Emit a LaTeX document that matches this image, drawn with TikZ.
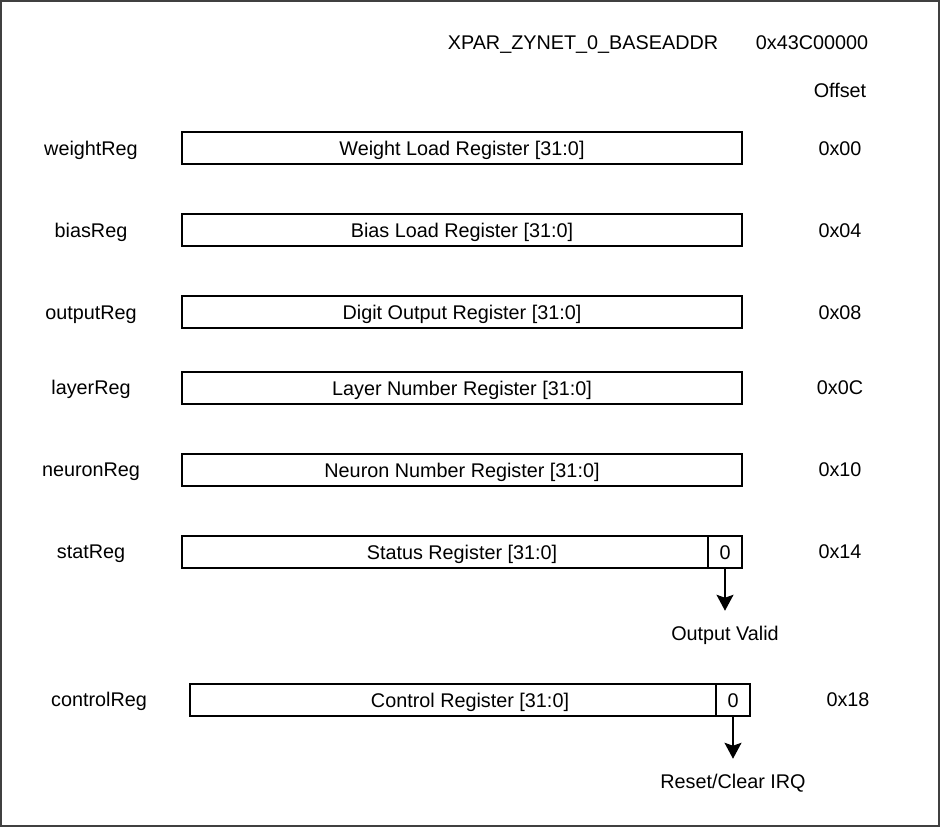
\documentclass[tikz,border=0pt]{standalone}
\usepackage{fontspec}
\setmainfont{Liberation Sans}
\usetikzlibrary{arrows.meta,positioning}

\begin{document}
\begin{tikzpicture}[
  x=1pt, y=-1pt,
  txt/.style={font=\fontsize{19.8}{23}\selectfont, inner sep=0pt, text height=18pt, text depth=4pt},
  regbox/.style={draw, line width=1.5pt, minimum width=560pt, minimum height=32pt, inner sep=0pt, text height=18pt, text depth=4pt, font=\fontsize{19.8}{23}\selectfont},
  bitbox/.style={draw, line width=1.5pt, minimum width=34pt, minimum height=32pt, inner sep=0pt, text height=18pt, text depth=4pt, font=\fontsize{19.8}{23}\selectfont},
  sig/.style={-{Stealth[length=16pt, width=17pt, inset=3pt]}, line width=1.5pt}
]
  \useasboundingbox (0,0) rectangle (940,827);
  \draw[line width=2pt, black!75] (1,1) rectangle (939,826);

  % Header
  \node[txt] (base) at (583,42) {XPAR\_ZYNET\_0\_BASEADDR};
  \node[txt] (addr) at (812,42) {0x43C00000};
  \node[txt] (offs) at (840,90) {Offset};

  % Registers
  \node[regbox] (weight) at (462,148) {Weight Load Register [31:0]};
  \node[txt] (weightlbl) at (91,148) {weightReg};
  \node[txt] (weightoff) at (840,148) {0x00};

  \node[regbox] (bias) at (462,230) {Bias Load Register [31:0]};
  \node[txt] (biaslbl) at (91,230) {biasReg};
  \node[txt] (biasoff) at (840,230) {0x04};

  \node[regbox] (output) at (462,312) {Digit Output Register [31:0]};
  \node[txt] (outputlbl) at (91,312) {outputReg};
  \node[txt] (outputoff) at (840,312) {0x08};

  \node[regbox] (layer) at (462,388) {Layer Number Register [31:0]};
  \node[txt] (layerlbl) at (91,387) {layerReg};
  \node[txt] (layeroff) at (840,387) {0x0C};

  \node[regbox] (neuron) at (462,470) {Neuron Number Register [31:0]};
  \node[txt] (neuronlbl) at (91,469) {neuronReg};
  \node[txt] (neuronoff) at (840,469) {0x10};

  \node[regbox] (stat) at (462,552) {Status Register [31:0]};
  \node[bitbox, anchor=east] (statbit) at (stat.east) {0};
  \node[txt] (statlbl) at (91,551) {statReg};
  \node[txt] (statoff) at (840,551) {0x14};

  \node[regbox] (control) at (470,700) {Control Register [31:0]};
  \node[bitbox, anchor=east] (controlbit) at (control.east) {0};
  \node[txt] (controllbl) at (99,699) {controlReg};
  \node[txt] (controloff) at (848,699) {0x18};

  % Signals
  \node[txt, below=54pt of statbit] (valid) {Output Valid};
  \draw[sig] (statbit.south) -- ++(0,42);
  \node[txt, below=54pt of controlbit] (irq) {Reset/Clear IRQ};
  \draw[sig] (controlbit.south) -- ++(0,42);
\end{tikzpicture}
\end{document}
